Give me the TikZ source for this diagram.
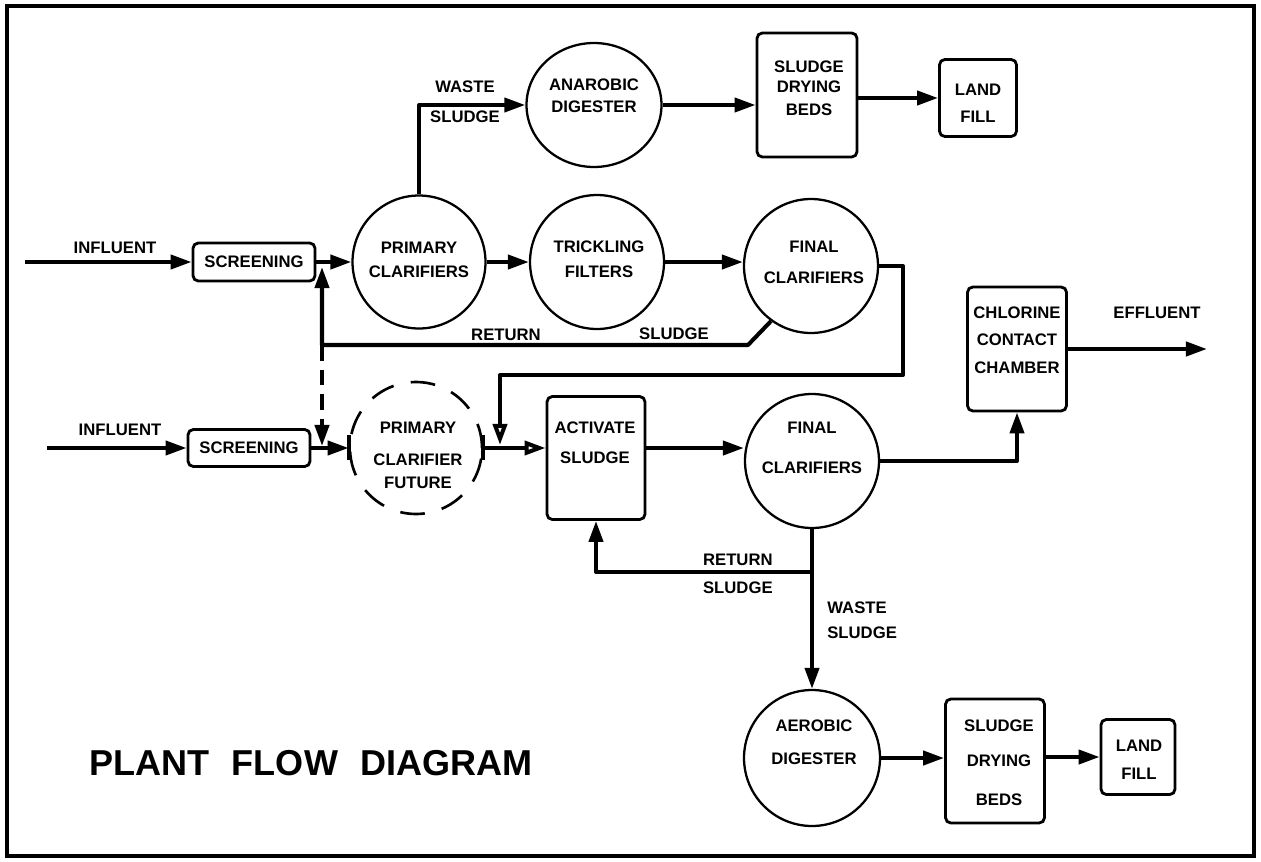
\documentclass[tikz,border=0pt]{standalone}
\usepackage{fontspec}
\setmainfont{Liberation Sans}
\usetikzlibrary{arrows.meta,calc,shapes.geometric}
\begin{document}
\begin{tikzpicture}[x=0.02cm,y=-0.02cm,
  flow/.style={line width=2.3pt,line join=round},
  arr/.style={flow,-{Triangle[length=12pt,width=8pt]}},
  oarr/.style={flow,-{Triangle[open,length=12pt,width=8pt]}},
  vessel/.style={circle,draw,line width=1.3pt,inner sep=0pt},
  tank/.style={draw,line width=1.6pt,rounded corners=3pt,inner sep=0pt},
  lbl/.style={font=\bfseries\fontsize{9.5}{11.4}\selectfont,inner sep=0pt,align=center},
]
\path[use as bounding box] (0,0) rectangle (1261,862);
\draw[line width=2.3pt] (7,6) rectangle (1254,856);

% upper train
\node[tank,lbl,minimum width=2.44cm,minimum height=0.76cm] (scr1) at (254,262) {SCREENING};
\node[vessel,minimum size=2.66cm] (prim1) at (419,262) {};
\node[lbl] (tprim1) at (419,260) {PRIMARY\\[2.3pt]CLARIFIERS};
\node[vessel,minimum size=2.68cm] (trick) at (597,262) {};
\node[lbl] (ttrick) at (599,259.5) {TRICKLING\\[2.8pt]FILTERS};
\node[vessel,minimum size=2.68cm] (fin1) at (811,266) {};
\node[lbl] (tfin1) at (814,262.5) {FINAL\\[6.3pt]CLARIFIERS};
\node[ellipse,draw,line width=1.3pt,inner sep=0pt,minimum width=2.7cm,minimum height=2.48cm] (anaer) at (594,105) {};
\node[lbl] (tanaer) at (594,96) {ANAROBIC\\[1.1pt]DIGESTER};
\node[tank,minimum width=2cm,minimum height=2.48cm] (sdb1) at (807,95) {};
\node[lbl] (tsdb1) at (809,88.5) {SLUDGE\\DRYING\\[1.7pt]BEDS};
\node[tank,minimum width=1.54cm,minimum height=1.54cm] (lf1) at (978,98) {};
\node[lbl] (tlf1) at (978,103.5) {LAND\\[4pt]FILL};

% lower train
\node[tank,lbl,minimum width=2.44cm,minimum height=0.74cm] (scr2) at (249,448) {SCREENING};
\node[vessel,line width=1.5pt,dash pattern=on 14pt off 10pt,minimum size=2.64cm] (prim2) at (416,448) {};
\node[lbl] (tprim2) at (418,455.5) {PRIMARY\\[6.8pt]CLARIFIER\\[1.7pt]FUTURE};
\node[tank,minimum width=1.96cm,minimum height=2.46cm] (act) at (596,458) {};
\node[lbl] (tact) at (595,443) {ACTIVATE\\[5.7pt]SLUDGE};
\node[vessel,minimum size=2.68cm] (fin2) at (812,461) {};
\node[lbl] (tfin2) at (812,448) {FINAL\\[11.4pt]CLARIFIERS};
\node[tank,minimum width=1.98cm,minimum height=2.48cm] (chl) at (1017,349) {};
\node[lbl] (tchl) at (1017,340.5) {CHLORINE\\[4pt]CONTACT\\[4.6pt]CHAMBER};
\node[vessel,minimum size=2.72cm] (aer) at (812,758) {};
\node[lbl] (taer) at (814,742.5) {AEROBIC\\[7.4pt]DIGESTER};
\node[tank,minimum width=1.98cm,minimum height=2.48cm] (sdb2) at (995,761) {};
\node[lbl] (tsdb2) at (999,763) {SLUDGE\\[8.5pt]DRYING\\[10.8pt]BEDS};
\node[tank,minimum width=1.48cm,minimum height=1.5cm] (lf2) at (1138,757) {};
\node[lbl] (tlf2) at (1139,760) {LAND\\[4.6pt]FILL};

% labels
\node[lbl] (linf1) at (115,248) {INFLUENT};
\node[lbl] (linf2) at (120,430) {INFLUENT};
\node[lbl] (lwaste1) at (465,102) {WASTE\\[5.7pt]SLUDGE};
\node[lbl] (lret1) at (506,335) {RETURN};
\node[lbl] (lsl1) at (674,334) {SLUDGE};
\node[lbl] (leff) at (1157,313) {EFFLUENT};
\node[lbl,align=right,anchor=east] (lret2) at (773,574) {RETURN\\[4.6pt]SLUDGE};
\node[lbl,align=left,anchor=west] (lwaste2) at (827,620.5) {WASTE\\[2.8pt]SLUDGE};
\node[font=\bfseries\fontsize{20.5}{24}\selectfont,inner sep=0pt] (title) at (311,763) {PLANT\hspace{13pt}FLOW\hspace{13pt}DIAGRAM};

% free ends and bends
\coordinate (in1) at (25,262);
\coordinate (in2) at (47,448);
\coordinate (rb) at (748,345);
\coordinate (rj) at (322,345);
\coordinate (t1) at (903,375);
\coordinate (t2) at (500,375);
\coordinate (eff) at (1207,349);
\coordinate (rs) at (812,572);

% connectors, upper
\draw[arr] (in1) -- (scr1.west);
\draw[arr] (scr1.east) -- (prim1.west);
\draw[arr] (prim1.east) -- (trick.west);
\draw[arr] (trick.east) -- (trick.east -| fin1.west);
\draw[arr] (prim1.north) |- (anaer.west);
\draw[arr] (anaer.east) -- (anaer.east -| sdb1.west);
\draw[arr] (lf1.west -| sdb1.east) -- (lf1.west);
\draw[arr] (fin1.234) -- (rb) -- (rj) -- ($(rj |- scr1.east)+(0,5)$);
\draw[arr,dash pattern=on 9pt off 5pt] (rj) -- ($(rj |- scr2.east)+(0,-2)$);
\draw[oarr] (fin1.east) -| (t1) -- (t2) -- ($(t2 |- prim2.east)+(0,-3)$);

% connectors, lower
\draw[arr] (in2) -- (scr2.west);
\draw[arr] (scr2.east) -- (prim2.west);
\draw[flow] ($(prim2.west)+(0,-13)$) -- ($(prim2.west)+(0,12)$);
\draw[flow] ($(prim2.east)+(0,-13)$) -- ($(prim2.east)+(0,12)$);
\draw[oarr] (prim2.east) -- (prim2.east -| act.west);
\draw[arr] (prim2.east -| act.east) -- (prim2.east -| fin2.west);
\draw[arr] (fin2.east) -| (chl.south);
\draw[arr] (chl.east) -- (eff);
\draw[arr] (fin2.south) -- (aer.north);
\draw[arr] (rs) -| (act.south);
\draw[arr] (aer.east) -- (aer.east -| sdb2.west);
\draw[arr] (lf2.west -| sdb2.east) -- (lf2.west);
\end{tikzpicture}
\end{document}
